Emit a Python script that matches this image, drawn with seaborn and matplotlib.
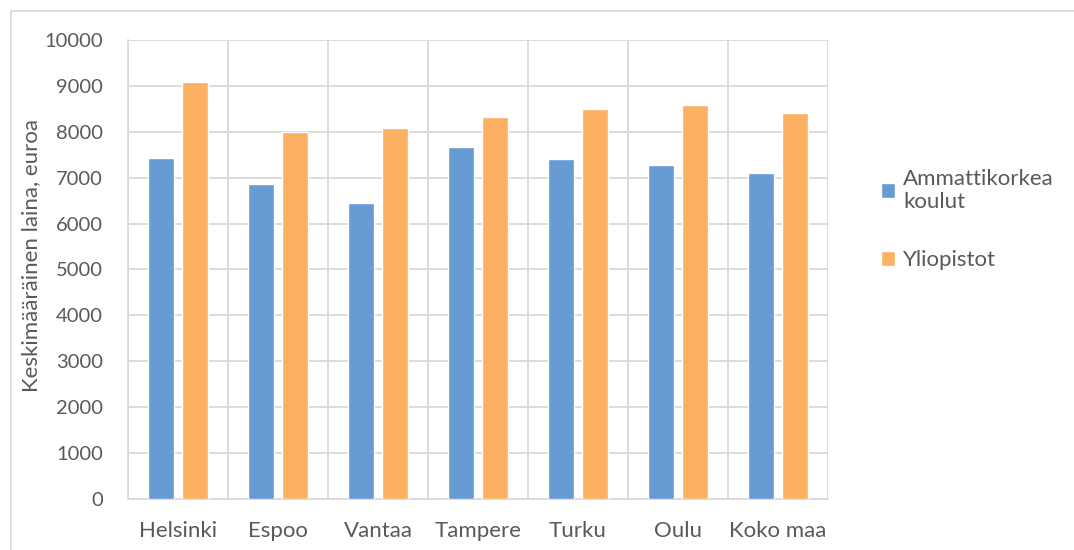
import matplotlib
matplotlib.use("Agg")
import matplotlib.pyplot as plt
from matplotlib.patches import Rectangle
import seaborn as sns
import pandas as pd

cities = ["Helsinki", "Espoo", "Vantaa", "Tampere", "Turku", "Oulu", "Koko maa"]
amk = [7420, 6860, 6440, 7660, 7400, 7270, 7110]
yliopistot = [9090, 8000, 8080, 8320, 8490, 8580, 8420]
series = ["Ammattikorkea\nkoulut", "Yliopistot"]
colors = ["#669BD4", "#FBB062"]

df = pd.DataFrame({
    "kaupunki": cities * 2,
    "laina": amk + yliopistot,
    "sarja": [series[0]] * len(cities) + [series[1]] * len(cities),
})

sns.set_style("white")
plt.rcParams["font.family"] = ["Lato", "DejaVu Sans"]
text_color = "#595959"
grid_color = "#D9D9D9"

fig = plt.figure(figsize=(10.74, 5.5), dpi=100)
ax = fig.add_axes([128 / 1074, 1 - 499 / 550, 700 / 1074, 459 / 550])

sns.barplot(data=df, x="kaupunki", y="laina", hue="sarja", palette=colors,
            saturation=1, width=0.68, gap=0.22, ax=ax, zorder=3, legend=True)

ax.set_ylim(0, 10000)
ax.set_xlim(-0.5, len(cities) - 0.5)
ax.set_yticks(range(0, 10001, 1000))
ax.set_xticks(range(len(cities)))
ax.set_xticks([i - 0.5 for i in range(len(cities) + 1)], minor=True)
ax.grid(axis="y", which="major", color=grid_color, linewidth=1.3, zorder=0)
ax.grid(axis="x", which="minor", color=grid_color, linewidth=1.3, zorder=0)
ax.grid(axis="x", which="major", visible=False)

for side in ["top", "right"]:
    ax.spines[side].set_visible(False)
for side in ["left", "bottom"]:
    ax.spines[side].set_color(grid_color)
    ax.spines[side].set_linewidth(1.3)

ax.tick_params(axis="y", which="both", length=0, pad=18, labelsize=14.5, labelcolor=text_color)
ax.tick_params(axis="x", which="both", length=0, pad=16, labelsize=16, labelcolor=text_color)
ax.set_xlabel("")
ax.set_ylabel("Keskimääräinen laina, euroa", fontsize=16, color=text_color)
ax.yaxis.set_label_coords(-0.124, 0.53)

handles, labels = ax.get_legend_handles_labels()
ax.get_legend().remove()
leg = fig.legend(handles, labels, loc="upper left", bbox_to_anchor=(861 / 1074, 1 - 149 / 550),
                 frameon=False, fontsize=16, handlelength=0.65, handleheight=0.65,
                 handletextpad=0.35, labelspacing=1.72)
for t in leg.get_texts():
    t.set_color(text_color)

fig.patches.append(Rectangle((11 / 1074, -0.1), 1.2, 1 - 11 / 550 + 0.1, transform=fig.transFigure,
                             fill=False, edgecolor=grid_color, linewidth=1.3))

fig.savefig("out.png", dpi=100)
